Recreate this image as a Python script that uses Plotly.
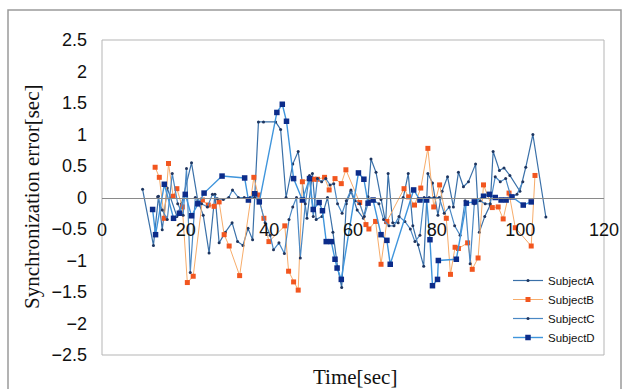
import plotly.graph_objects as go

# ---------------- data ----------------
t_a = [9.7, 12.3, 13.5, 14.4, 15.6, 17.9, 19.0, 21.4, 22.9, 24.2, 25.6, 27.0, 28.0, 29.5,
       31.1, 32.4, 33.7, 34.9, 36.0, 37.4, 38.6, 41.5, 42.7, 44.0, 45.6, 46.9, 49.0, 50.3,
       51.2, 52.6, 53.9, 55.2, 56.3, 57.3, 58.4, 59.5, 61.0, 62.5, 63.6, 64.3, 65.5, 66.7,
       67.8, 68.4, 69.5, 70.8, 72.0, 73.2, 74.3, 75.6, 76.9, 77.9, 79.0, 80.3, 81.3, 82.6,
       84.0, 85.2, 86.4, 87.6, 89.3, 90.2, 91.5, 92.8, 93.5, 95.0, 96.1, 97.5, 99.9, 101.3,
       103.0, 106.1]
v_a = [0.13, -0.76, 0.02, -0.51, 0.15, -0.30, -0.10, 0.55, -0.05, -0.28, -0.88, 0.05, -0.72, -0.55,
       -0.40, -0.70, -0.76, -0.49, -0.67, 1.20, 1.20, 1.20, 1.08, 0.00, 0.53, 0.73, -0.33, 0.38,
       -0.35, -0.30, 0.00, -0.55, -1.10, -1.43, -0.10, 0.10, -0.20, -0.33, 0.01, 0.61, 0.40, -0.03,
       -0.40, 0.38, -0.40, -0.40, 0.00, 0.38, -0.45, -0.75, -1.09, 0.38, 0.23, -0.28, 0.10, 0.33,
       -0.15, 0.40, 0.17, 0.25, 0.53, -0.55, -0.30, -0.12, 0.73, 0.43, 0.47, 0.35, 0.10, 0.48,
       1.00, -0.31]

t_b = [12.7, 13.7, 14.9, 15.9, 17.0, 17.9, 19.2, 20.4, 21.8, 24.0, 25.4, 26.8, 28.0, 29.2,
       30.4, 32.9, 36.3, 37.4, 38.7, 39.9, 43.7, 44.6, 45.8, 46.9, 47.9, 49.6, 50.7, 51.5,
       53.2, 54.3, 55.7, 57.2, 58.3, 61.6, 63.1, 63.8, 65.4, 66.7, 68.1, 72.2, 73.3, 74.7,
       76.2, 77.9, 79.3, 80.7, 82.3, 83.3, 84.4, 85.2, 87.4, 88.5, 89.9, 91.2, 93.3, 94.7,
       95.9, 97.3, 98.8, 102.6, 103.5]
v_b = [0.48, 0.32, -0.33, 0.54, 0.02, 0.14, -0.15, -1.35, -1.25, -0.04, -0.12, -0.14, -0.07, -0.59,
       -0.77, -1.24, 0.32, 0.04, -0.33, -0.70, -0.45, -1.17, -1.34, -1.47, 0.25, 0.30, 0.29, 0.29,
       0.32, 0.12, 0.30, 0.22, 0.44, -0.08, -0.43, -0.50, -0.38, -1.06, -0.38, 0.14, 0.01, -0.12,
       0.15, 0.78, -0.15, 0.20, -0.33, -1.22, -0.79, -0.81, -0.72, -1.14, -0.96, 0.20, -0.16, -0.15,
       -0.34, 0.07, -0.48, -0.77, 0.35]

t_c = [13.3, 14.4, 15.6, 16.8, 18.1, 19.4, 20.2, 21.1, 22.3, 23.8, 25.2, 26.4, 27.6, 29.0,
       30.3, 31.2, 32.6, 34.0, 35.4, 36.5, 37.6, 39.0, 40.2, 41.0, 42.3, 43.6, 44.7, 45.6,
       46.5, 47.4, 48.6, 49.6, 50.5, 51.5, 52.5, 53.5, 54.5, 55.4, 56.3, 57.4, 58.4, 59.5,
       60.5, 61.6, 62.7, 63.8, 65.0, 66.2, 67.3, 68.6, 69.8, 71.0, 72.4, 73.7, 74.8, 76.0,
       77.0, 78.2, 79.4, 80.6, 81.8, 83.0, 84.3, 85.6, 86.8, 88.0, 89.0, 90.4, 91.6, 92.8,
       94.0, 95.2, 96.5, 97.8, 99.2, 100.6]
v_c = [0.01, -0.20, -0.35, 0.38, -0.10, -0.28, 0.46, -1.19, 0.00, -0.10, -0.15, 0.05, -0.02, -0.03,
       0.00, 0.12, 0.00, 0.00, 0.00, 0.00, -0.05, -0.40, -0.60, -0.83, -0.72, -0.89, -0.35, -0.15,
       0.00, -0.96, -0.10, 0.35, -0.30, 0.30, 0.25, 0.30, 0.20, 0.22, -0.10, -0.25, -0.05, 0.12,
       -0.05, -0.10, -0.30, -0.05, -0.05, -0.10, -0.35, -0.45, -0.45, -0.30, -0.38, -0.50, -0.70, -0.60,
       0.00, 0.00, 0.00, 0.00, -0.25, -0.15, -0.45, -0.60, -0.05, -1.05, -0.10, -0.05, -0.10, -0.10,
       0.33, 0.25, 0.30, 0.00, 0.05, 0.25]

t_d = [12.1, 12.8, 14.9, 17.1, 18.5, 19.9, 21.4, 22.9, 24.4, 28.7, 34.1, 35.0, 36.5, 37.6,
       41.8, 43.1, 44.1, 45.8, 47.9, 49.6, 50.5, 51.9, 52.7, 53.6, 54.8, 55.7, 56.2, 57.2,
       61.3, 62.6, 63.6, 64.8, 66.7, 68.1, 68.9, 74.5, 76.0, 77.6, 78.4, 79.0, 80.2, 80.4,
       84.7, 87.1, 89.0, 91.2, 92.6, 94.0, 95.4, 96.6, 98.0, 100.7, 102.6]
v_d = [-0.19, -0.59, 0.21, -0.33, -0.25, 0.05, -0.29, -0.10, 0.07, 0.34, 0.31, -0.04, 0.06, -0.07,
       1.35, 1.48, 1.21, 0.30, -0.04, 0.30, -0.19, -0.08, -0.21, -0.70, -0.70, -0.98, -1.12, -1.30,
       0.39, 0.29, -0.09, -0.04, -0.59, -0.68, -1.06, 0.12, -0.04, -0.04, -0.67, -1.40, -1.30, -1.00,
       -0.98, -0.09, -0.07, 0.02, 0.05, 0.00, -0.04, -0.04, 0.01, -0.12, -0.07]

x_ticks = [0, 20, 40, 60, 80, 100, 120]
y_ticks = [-2.5, -2, -1.5, -1, -0.5, 0, 0.5, 1, 1.5, 2, 2.5]
y_tick_text = ["−2.5", "−2", "−1.5", "−1", "−0.5", "0", "0.5", "1", "1.5", "2", "2.5"]

# ---------------- figure ----------------
fig = go.Figure()
fig.add_trace(go.Scatter(x=t_a, y=v_a, name="SubjectA", mode="lines+markers",
                         line=dict(color="#3a70a8", width=1.2),
                         marker=dict(symbol="circle", size=3, color="#1c3560")))
fig.add_trace(go.Scatter(x=t_b, y=v_b, name="SubjectB", mode="lines+markers",
                         line=dict(color="#f7ac6a", width=1),
                         marker=dict(symbol="square", size=5, color="#f2561f")))
fig.add_trace(go.Scatter(x=t_c, y=v_c, name="SubjectC", mode="lines+markers",
                         line=dict(color="#4a88c4", width=1.2),
                         marker=dict(symbol="circle", size=3, color="#22355e")))
fig.add_trace(go.Scatter(x=t_d, y=v_d, name="SubjectD", mode="lines+markers",
                         line=dict(color="#3f95dc", width=1.4),
                         marker=dict(symbol="square", size=5.5, color="#0c2c8a")))

L, R, T, B = 102, 18, 40, 34
W, H = 622, 389
pw, ph = W - L - R, H - T - B

def px(xpix):
    return (xpix - L) / pw

def py(ypix):
    return (H - B - ypix) / ph

fig.update_layout(
    width=W, height=H,
    margin=dict(l=L, r=R, t=T, b=B, autoexpand=False),
    paper_bgcolor="white", plot_bgcolor="white",
    font=dict(family="Liberation Sans, Arial, sans-serif", color="#111"),
    showlegend=True,
    legend=dict(x=px(508), y=py(266), xanchor="left", yanchor="top",
                bgcolor="rgba(0,0,0,0)", font=dict(size=11.5, family="Liberation Sans Narrow, Liberation Sans"),
                tracegroupgap=0, itemwidth=30),
    xaxis=dict(range=[0, 120], tickvals=x_ticks, ticktext=[str(v) for v in x_ticks],
               showgrid=False, zeroline=False, showline=True, linecolor="#8a8a8a", linewidth=1,
               ticks="", anchor="free", position=0.5, tickfont=dict(size=18),
               ticklabelstandoff=16, automargin=False),
    yaxis=dict(range=[-2.5, 2.5], tickvals=y_ticks, ticktext=y_tick_text,
               showgrid=False, zeroline=False, showline=False, ticks="",
               tickfont=dict(size=18), ticklabelstandoff=14, automargin=False),
    shapes=[
        dict(type="rect", xref="paper", yref="paper", x0=0, x1=1, y0=0, y1=1,
             line=dict(color="#b5b5b5", width=1), layer="below"),
        dict(type="rect", xref="paper", yref="paper", x0=px(8), x1=px(621), y0=py(392), y1=py(10),
             line=dict(color="#9a9a9a", width=1.5), layer="below"),
    ],
    annotations=[
        dict(text="Time[sec]", xref="paper", yref="paper", x=px(355), y=py(377),
             xanchor="center", yanchor="middle",
             showarrow=False, font=dict(family="Liberation Serif, Times New Roman, serif", size=21)),
        dict(text="Synchronization error[sec]", xref="paper", yref="paper", x=px(32), y=py(197),
             xanchor="center", yanchor="middle",
             showarrow=False, textangle=-90,
             font=dict(family="Liberation Serif, Times New Roman, serif", size=21)),
    ],
)

fig.write_html("out.html", config={"displayModeBar": False},
               post_script="document.body.style.margin='0';document.body.style.padding='0';")
